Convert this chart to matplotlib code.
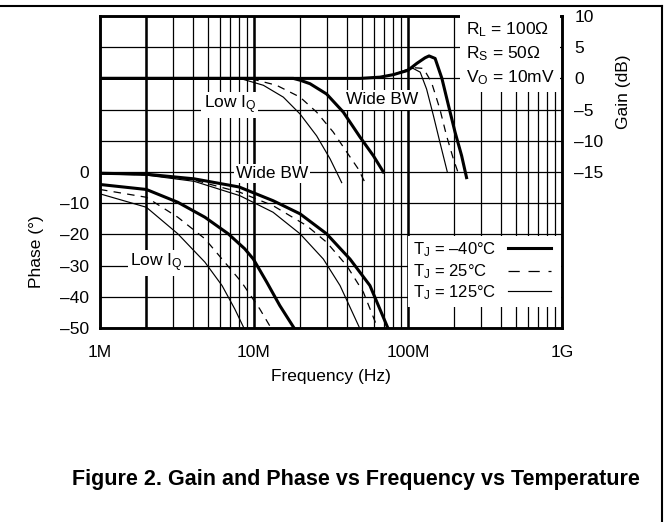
import matplotlib
matplotlib.use('Agg')
import matplotlib.pyplot as plt
from matplotlib.lines import Line2D
from matplotlib.patches import Rectangle
import numpy as np

plt.rcParams['font.family'] = ['Liberation Sans', 'DejaVu Sans']
plt.rcParams['mathtext.fontset'] = 'custom'
plt.rcParams['mathtext.rm'] = 'Liberation Sans'
plt.rcParams['mathtext.it'] = 'Liberation Sans'

# frequencies in MHz, phase in degrees, gain in dB
# phase, Low IQ
ph_low_f_40 = [1, 2, 3.2, 4.8, 6.8, 8.7, 9.9, 12.1, 14.7, 18.2]
ph_low_p_40 = [-4.0, -5.6, -9.7, -14.5, -19.8, -24.6, -27.9, -35.3, -42.8, -50]
ph_low_f_25 = [1, 2, 3.2, 4.8, 6.2, 8.3, 10.9, 12.9]
ph_low_p_25 = [-5.6, -8.1, -14.5, -21.4, -27.9, -35.3, -43.9, -50]
ph_low_f_125 = [1, 2, 3.2, 4.8, 6.2, 7.5, 8.6]
ph_low_p_125 = [-7.0, -11.3, -19.8, -28.9, -36.4, -43.9, -50]
# phase, Wide BW
ph_wide_f_40 = [1, 2, 4.1, 8, 13.3, 19.9, 29.6, 42, 56.6, 74]
ph_wide_p_40 = [-0.4, -0.7, -2.2, -4.8, -9.2, -13.4, -19.8, -27.9, -36.4, -50]
ph_wide_f_25 = [1, 2, 4.1, 8.1, 13.3, 22, 29.6, 40, 51.3, 63.5]
ph_wide_p_25 = [-0.5, -0.9, -2.6, -6.5, -10.8, -17.2, -22.5, -30.0, -38.5, -50]
ph_wide_f_125 = [1, 2, 4.1, 8.1, 13.3, 19.9, 28.2, 36.2, 48.5]
ph_wide_p_125 = [-0.6, -1.0, -3.0, -7.6, -12.9, -19.8, -27.9, -36.4, -50]

# gain, Low IQ
g_low_f_40 = [1, 18, 20, 23.1, 29.6, 38, 48.8, 59.6, 69.2]
g_low_g_40 = [0, 0, -0.3, -0.85, -2.5, -5.4, -9.4, -12.4, -15.0]
g_low_f_25 = [1, 9.9, 14.0, 19.9, 25.5, 32.7, 40, 47.5, 52.6]
g_low_g_25 = [0, -0.15, -1.1, -3.0, -5.4, -8.6, -11.8, -14.5, -16.7]
g_low_f_125 = [1, 8.5, 11.5, 15.5, 19.9, 25.5, 31.2, 37.1]
g_low_g_125 = [0, -0.15, -1.1, -3.0, -5.7, -9.2, -12.9, -16.7]
# gain, Wide BW
g_wide_f_40 = [1, 48.8, 65.8, 80.3, 100, 114, 129, 137, 150, 166, 183, 202, 223, 240]
g_wide_g_40 = [0, 0, 0.2, 0.6, 1.3, 2.4, 3.3, 3.6, 3.2, 0, -4.3, -8.6, -12.4, -15.9]
g_wide_f_25 = [1, 48.8, 65.8, 80.3, 100, 111, 126, 142, 161, 178, 197, 215]
g_wide_g_25 = [0, 0, 0.2, 0.6, 1.2, 1.7, 1.6, -0.6, -4.9, -9.2, -12.9, -15.6]
g_wide_f_125 = [1, 48.8, 65.8, 80.3, 100, 108, 120, 132, 146, 161, 180]
g_wide_g_125 = [0, 0, 0.2, 0.6, 1.5, 1.6, 1.0, -1.7, -5.9, -10.2, -15.0]

x_ticks = [1e6, 1e7, 1e8, 1e9]
x_labels = ['1M', '10M', '100M', '1G']
phase_labels = ['–50', '–40', '–30', '–20', '–10', '0']
gain_ticks = [-15, -10, -5, 0, 5, 10]
gain_labels = ['–15', '–10', '–5', '0', '5', '10']

temps = ['T$_\\mathregular{J}$ = –40°C', 'T$_\\mathregular{J}$ = 25°C', 'T$_\\mathregular{J}$ = 125°C']
thick = dict(color='black', lw=2.2)
dash = dict(color='black', lw=0.9, dashes=(6, 5))
thin = dict(color='black', lw=0.85)
FS = 12.5

fig = plt.figure(figsize=(6.65, 5.22), dpi=100)
ax = fig.add_axes([100/665, 1-328/522, 462/665, 312/522])
ax2 = ax.twinx()

ax.set_xscale('log')
ax.set_xlim(1e6, 1e9)
ax.set_ylim(-50, 50)
ax2.set_ylim(-40, 10)

M = 1e6
ax.plot(np.array(ph_low_f_40)*M, ph_low_p_40, **thick)
ax.plot(np.array(ph_low_f_25)*M, ph_low_p_25, **dash)
ax.plot(np.array(ph_low_f_125)*M, ph_low_p_125, **thin)
ax.plot(np.array(ph_wide_f_40)*M, ph_wide_p_40, **thick)
ax.plot(np.array(ph_wide_f_25)*M, ph_wide_p_25, **dash)
ax.plot(np.array(ph_wide_f_125)*M, ph_wide_p_125, **thin)

ax2.plot(np.array(g_low_f_40)*M, g_low_g_40, **thick)
ax2.plot(np.array(g_low_f_25)*M, g_low_g_25, **dash)
ax2.plot(np.array(g_low_f_125)*M, g_low_g_125, **thin)
ax2.plot(np.array(g_wide_f_40)*M, g_wide_g_40, **thick)
ax2.plot(np.array(g_wide_f_25)*M, g_wide_g_25, **dash)
ax2.plot(np.array(g_wide_f_125)*M, g_wide_g_125, **thin)

# grid
ax.set_xticks(x_ticks)
ax.set_xticklabels(x_labels)
ax.set_yticks(np.arange(-50, 51, 10))
ax.set_yticklabels(phase_labels + [''] * 5)
ax.grid(True, which='both', color='black', lw=0.9)
for xv in [2e6, 1e7, 1e8]:
    ax.axvline(xv, color='black', lw=1.8, zorder=1.5)
ax2.set_yticks(gain_ticks)
ax2.set_yticklabels(gain_labels)
ax.tick_params(which='both', length=0, labelsize=FS)
ax.tick_params(axis='x', pad=12)
ax.tick_params(axis='y', pad=8)
ax2.tick_params(length=0, labelsize=FS, pad=9)
for a in (ax, ax2):
    for s in a.spines.values():
        s.set_linewidth(1.8)

ax.set_xlabel('Frequency (Hz)', fontsize=FS, labelpad=7)
ax.set_ylabel('Phase (°)', fontsize=FS)
ax.yaxis.set_label_coords(-0.122, 0.244)
ax2.set_ylabel('Gain (dB)', fontsize=FS, rotation=90)
ax2.yaxis.set_label_coords(1.117, 0.756)

box = dict(facecolor='white', edgecolor='none', pad=1.5)
ax2.text(0.281, 0.715, 'Low I$_\\mathregular{Q}$', transform=ax2.transAxes, fontsize=FS,
         ha='center', va='center', bbox=box, zorder=5)
ax2.text(0.61, 0.731, 'Wide BW', transform=ax2.transAxes, fontsize=FS,
         ha='center', va='center', bbox=box, zorder=5)
ax2.text(0.372, 0.494, 'Wide BW', transform=ax2.transAxes, fontsize=FS,
         ha='center', va='center', bbox=box, zorder=5)
ax2.text(0.121, 0.208, 'Low I$_\\mathregular{Q}$', transform=ax2.transAxes, fontsize=FS,
         ha='center', va='center', bbox=box, zorder=5)

ax2.text(0.792, 0.985, 'R$_\\mathregular{L}$ = 100Ω\nR$_\\mathregular{S}$ = 50Ω\nV$_\\mathregular{O}$ = 10mV',
         transform=ax2.transAxes, fontsize=FS, ha='left', va='top', linespacing=1.35,
         bbox=dict(facecolor='white', edgecolor='none', pad=4), zorder=5)

# temperature key: white panel, left-aligned labels, sample lines on the right
ax2.add_patch(Rectangle((0.667, 0.067), 0.331, 0.228, transform=ax2.transAxes,
                        facecolor='white', edgecolor='none', zorder=5))
key_y = [0.252, 0.181, 0.114]
key_dash = dict(color='black', lw=0.9, dashes=(9, 7))
for ty, label, style in zip(key_y, temps, [thick, key_dash, thin]):
    ax2.text(0.677, ty, label, transform=ax2.transAxes, fontsize=12,
             ha='left', va='center', zorder=6)
    ax2.add_line(Line2D([0.884, 0.976], [ty + 0.003, ty + 0.003], transform=ax2.transAxes,
                        zorder=6, **style))

fig.text(356/665, 1-480/522, 'Figure 2. Gain and Phase vs Frequency vs Temperature',
         fontsize=15.5, weight='bold', ha='center', va='center')

# page frame
fig.add_artist(Line2D([0, 662/665], [1-6/522, 1-6/522], color='black', lw=1.5))
fig.add_artist(Line2D([662/665, 662/665], [0, 1-6/522], color='black', lw=1.5))

fig.savefig('out.png', dpi=100)
